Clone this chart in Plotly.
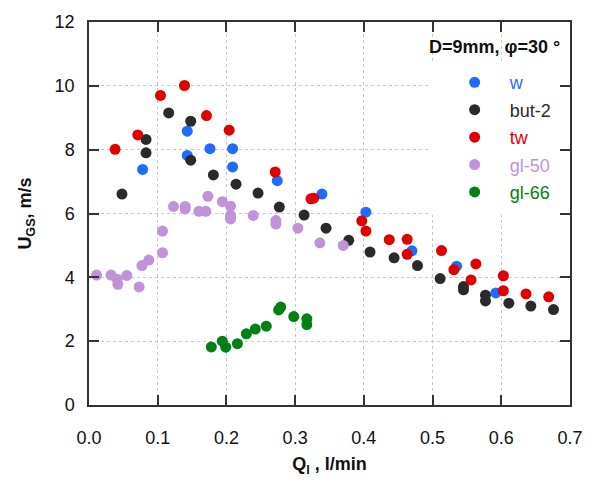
import plotly.graph_objects as go

# ---- data ----
w_x = [0.078, 0.143, 0.143, 0.176, 0.209, 0.209, 0.274, 0.339, 0.403, 0.470, 0.535, 0.592]
w_y = [7.38, 8.58, 7.82, 8.03, 8.03, 7.46, 7.03, 6.61, 6.04, 4.83, 4.35, 3.51]

but_x = [0.048, 0.083, 0.083, 0.116, 0.148, 0.148, 0.181, 0.214, 0.246, 0.277, 0.313, 0.345,
         0.378, 0.409, 0.444, 0.478, 0.511, 0.545, 0.545, 0.577, 0.577, 0.611, 0.643, 0.676]
but_y = [6.61, 8.32, 7.90, 9.15, 8.89, 7.67, 7.21, 6.92, 6.64, 6.20, 5.95, 5.54,
         5.16, 4.79, 4.61, 4.37, 3.96, 3.71, 3.61, 3.44, 3.26, 3.19, 3.10, 2.99]

tw_x = [0.038, 0.071, 0.104, 0.139, 0.171, 0.204, 0.271, 0.323, 0.327, 0.397, 0.403, 0.437,
        0.463, 0.463, 0.513, 0.531, 0.563, 0.556, 0.603, 0.603, 0.636, 0.669]
tw_y = [8.01, 8.46, 9.70, 10.01, 9.07, 8.61, 7.30, 6.46, 6.48, 5.77, 5.45, 5.18,
        5.19, 4.72, 4.84, 4.24, 4.42, 3.92, 4.05, 3.58, 3.48, 3.39]

gl50_x = [0.011, 0.032, 0.041, 0.042, 0.055, 0.073, 0.077, 0.087, 0.107, 0.107, 0.123, 0.140, 0.140,
          0.160, 0.170, 0.173, 0.194, 0.206, 0.206, 0.206, 0.239, 0.272, 0.272, 0.304, 0.336, 0.370]
gl50_y = [4.07, 4.07, 3.94, 3.78, 4.06, 3.70, 4.37, 4.54, 4.77, 5.45, 6.22, 6.22, 6.14,
          6.07, 6.07, 6.54, 6.37, 6.23, 5.94, 5.83, 5.94, 5.78, 5.67, 5.54, 5.08, 5.00]

gl66_x = [0.178, 0.194, 0.199, 0.216, 0.229, 0.242, 0.258, 0.276, 0.279, 0.298, 0.317, 0.317]
gl66_y = [1.82, 2.00, 1.81, 1.92, 2.23, 2.38, 2.47, 2.98, 3.07, 2.77, 2.70, 2.52]

names = ["w", "but-2", "tw", "gl-50", "gl-66"]
colors = ["#1f6bff", "#2a2a2a", "#e00000", "#c093d9", "#008015"]
xs = [w_x, but_x, tw_x, gl50_x, gl66_x]
ys = [w_y, but_y, tw_y, gl50_y, gl66_y]

x_ticks = [0.0, 0.1, 0.2, 0.3, 0.4, 0.5, 0.6, 0.7]
y_ticks = [0, 2, 4, 6, 8, 10, 12]

FONT = "Liberation Sans, Arial, sans-serif"

fig = go.Figure()
for n, c, x, y in zip(names, colors, xs, ys):
    fig.add_trace(go.Scatter(
        x=x, y=y, mode="markers", name=f"<span style='color:{c}'>{n}</span>",
        legendgroup=n,
        marker=dict(color=c, size=11, line=dict(width=0)),
    ))

axis_common = dict(
    showline=True, linecolor="#333333", linewidth=1.5, mirror="ticks",
    ticks="inside", ticklen=10, tickwidth=1.5, tickcolor="#333333",
    showgrid=True, gridcolor="#c8c8c8", gridwidth=1, griddash="3px,3px",
    zeroline=False, tickfont=dict(family=FONT, size=18, color="#111111"),
)

fig.update_xaxes(range=[0, 0.7], tickvals=x_ticks, ticktext=[f"{v:.1f}" for v in x_ticks],
                 ticklabelstandoff=16,
                 title=dict(text="<b>Q<sub>l</sub> , l/min</b>", standoff=10,
                            font=dict(family=FONT, size=18, color="#111111")),
                 **axis_common)
fig.update_yaxes(range=[0, 12], tickvals=y_ticks, ticklabelstandoff=9,
                 title=dict(text="<b>U<sub>GS</sub>, m/s</b>", standoff=18,
                            font=dict(family=FONT, size=18, color="#111111")),
                 **axis_common)

# white panel behind the legend (covers grid lines)
fig.add_shape(type="rect", xref="x", yref="y", x0=0.497, x1=0.7, y0=5.96, y1=10.75,
              fillcolor="white", line=dict(width=0), layer="between")

fig.add_annotation(text="<b>D=9mm, φ=30 °</b>", xref="paper", yref="paper",
                   x=0.983, y=0.935, xanchor="right", yanchor="middle", showarrow=False,
                   font=dict(family=FONT, size=18, color="#111111"))

fig.update_layout(
    width=597, height=484,
    margin=dict(l=89, r=27, t=20, b=79),
    paper_bgcolor="white", plot_bgcolor="white",
    font=dict(family=FONT, size=18, color="#111111"),
    showlegend=True,
    legend=dict(x=0.729, y=0.89, xanchor="left", yanchor="top",
                bgcolor="rgba(0,0,0,0)", itemwidth=60, tracegroupgap=1,
                font=dict(family=FONT, size=18)),
)

fig.write_html("out.html")
